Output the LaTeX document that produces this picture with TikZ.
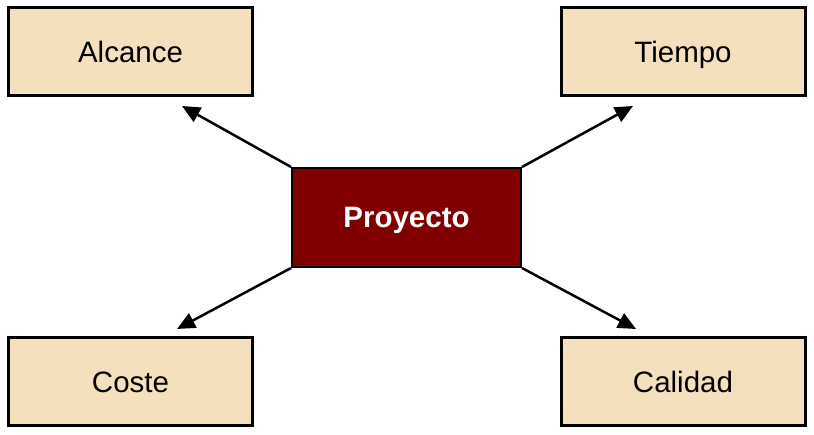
\documentclass[tikz,border=0pt]{standalone}
\usepackage{fontspec}
\setmainfont{Liberation Sans}
\usetikzlibrary{arrows.meta}
\definecolor{boxfill}{RGB}{245,224,190}
\definecolor{projred}{RGB}{128,0,0}
\begin{document}
\begin{tikzpicture}[x=1pt,y=-1pt,
  areabox/.style={draw=black,line width=3pt,fill=boxfill,minimum width=244pt,minimum height=88pt,inner sep=0pt,text height=21pt,text depth=0pt,font=\fontsize{29.5}{34}\selectfont},
  projbox/.style={draw=black,line width=2pt,fill=projred,text=white,minimum width=229pt,minimum height=99pt,inner sep=0pt,text height=21pt,text depth=0pt,font=\fontsize{29.5}{34}\selectfont\bfseries},
  conn/.style={line width=2.5pt,-{Triangle[length=18pt,width=16pt]}}]
\useasboundingbox (0,0) rectangle (814,435);
\node[areabox] (alc) at (130.5,52) {Alcance};
\node[areabox] (tie) at (683,52) {Tiempo};
\node[areabox] (cos) at (130.5,382) {Coste};
\node[areabox] (cal) at (683,382) {Calidad};
\node[projbox] (pro) at (406.5,217.5) {Proyecto};
\coordinate (tA) at (182,106);
\coordinate (tT) at (633,106);
\coordinate (tC) at (177,329);
\coordinate (tQ) at (636,329);
\draw[conn] (pro.north west) -- (tA);
\draw[conn] (pro.north east) -- (tT);
\draw[conn] (pro.south west) -- (tC);
\draw[conn] (pro.south east) -- (tQ);
\end{tikzpicture}
\end{document}
